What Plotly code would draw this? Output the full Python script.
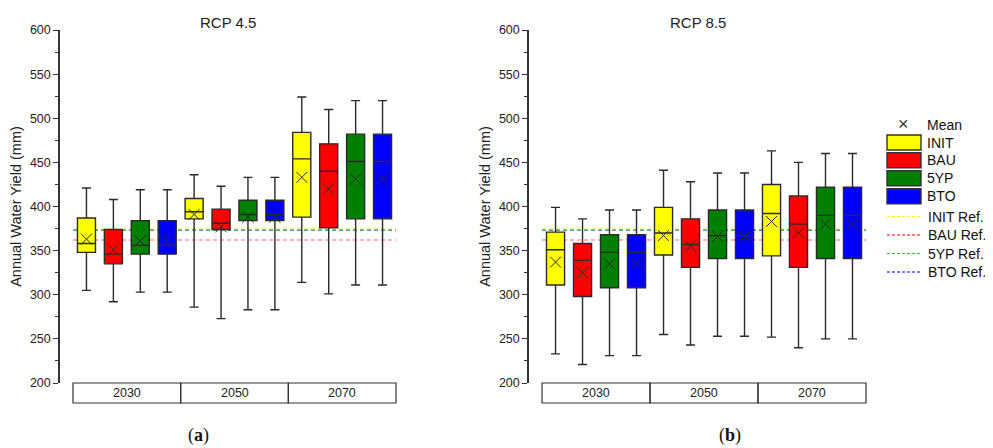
import plotly.graph_objects as go

# ---------------- data ----------------
years = ["2030", "2050", "2070"]
scenarios = ["INIT", "BAU", "5YP", "BTO"]
panel_titles = ["RCP 4.5", "RCP 8.5"]
panel_tags = ["a", "b"]

# RCP 4.5 statistics per scenario (2030, 2050, 2070)
rcp45_lower = {"INIT": [305, 286, 314], "BAU": [292, 273, 301], "5YP": [303, 283, 311], "BTO": [303, 283, 311]}
rcp45_q1 = {"INIT": [348, 386, 388], "BAU": [335, 374, 376], "5YP": [346, 384, 386], "BTO": [346, 384, 386]}
rcp45_median = {"INIT": [358, 394, 454], "BAU": [346, 381, 440], "5YP": [356, 391, 451], "BTO": [356, 391, 451]}
rcp45_q3 = {"INIT": [387, 409, 484], "BAU": [374, 397, 471], "5YP": [384, 407, 482], "BTO": [384, 407, 482]}
rcp45_upper = {"INIT": [421, 436, 524], "BAU": [408, 423, 510], "5YP": [419, 433, 520], "BTO": [419, 433, 520]}
rcp45_mean = {"INIT": [363, 391, 433], "BAU": [351, 377, 420], "5YP": [361, 388, 431], "BTO": [361, 388, 431]}

# RCP 8.5 statistics per scenario (2030, 2050, 2070)
rcp85_lower = {"INIT": [233, 255, 252], "BAU": [221, 243, 240], "5YP": [231, 253, 250], "BTO": [231, 253, 250]}
rcp85_q1 = {"INIT": [311, 345, 344], "BAU": [298, 331, 331], "5YP": [308, 341, 341], "BTO": [308, 341, 341]}
rcp85_median = {"INIT": [351, 370, 392], "BAU": [339, 357, 380], "5YP": [348, 367, 390], "BTO": [348, 367, 390]}
rcp85_q3 = {"INIT": [371, 399, 425], "BAU": [358, 386, 412], "5YP": [368, 396, 422], "BTO": [368, 396, 422]}
rcp85_upper = {"INIT": [399, 441, 463], "BAU": [386, 428, 450], "5YP": [396, 438, 460], "BTO": [396, 438, 460]}
rcp85_mean = {"INIT": [337, 367, 383], "BAU": [325, 355, 370], "5YP": [335, 366, 380], "BTO": [335, 366, 380]}

# reference (baseline) yields
ref_values = {"INIT": 375, "BAU": 362, "5YP": 373, "BTO": 373}

y_ticks = [200, 250, 300, 350, 400, 450, 500, 550, 600]

# ---------------- styles / layout helpers ----------------
fill_colors = {"INIT": "#FFFF00", "BAU": "#FF0000", "5YP": "#008000", "BTO": "#0000FF"}
ref_line_colors = {"INIT": "rgba(255,255,0,0.65)", "BAU": "rgba(255,70,70,0.55)",
                   "5YP": "rgba(60,210,60,0.6)", "BTO": "rgba(0,0,255,0.6)"}
legend_line_colors = {"INIT": "#FFFF00", "BAU": "#FF0000", "5YP": "#33BB33", "BTO": "#0000FF"}
FONT = "Liberation Sans, Arial, sans-serif"

PAGE_W, PAGE_H = 993, 448
OFF = 8  # default body margin of the html page
W, H = PAGE_W - OFF, PAGE_H - OFF


def px(xp):
    return (xp - OFF) / W


def py(yp):
    return 1 - (yp - OFF) / H


X_RANGE = [-0.483, 12]
domains_x = [[px(60), px(396)], [px(529), px(866)]]
domain_y = [py(383), py(30)]

panels = [
    (rcp45_lower, rcp45_q1, rcp45_median, rcp45_q3, rcp45_upper, rcp45_mean),
    (rcp85_lower, rcp85_q1, rcp85_median, rcp85_q3, rcp85_upper, rcp85_mean),
]

fig = go.Figure()
shapes = []
annotations = []


def x_to_paper(p, x):
    d0, d1 = domains_x[p]
    return d0 + (x - X_RANGE[0]) / (X_RANGE[1] - X_RANGE[0]) * (d1 - d0)


for p, (low, q1, med, q3, up, mean) in enumerate(panels):
    xa = "x" if p == 0 else "x2"
    ya = "y" if p == 0 else "y2"
    ngroup = len(scenarios)
    # reference lines, drawn behind the boxes
    for s in ["INIT", "BAU", "BTO", "5YP"]:
        shapes.append(dict(type="line", xref=xa, yref=ya, layer="below",
                           x0=0, x1=ngroup * len(years),
                           y0=ref_values[s], y1=ref_values[s],
                           line=dict(color=ref_line_colors[s], width=1.5, dash="4px,3px")))
    for i, s in enumerate(scenarios):
        pos = [g * ngroup + i + 0.5 for g in range(len(years))]
        fig.add_trace(go.Box(
            x=pos, q1=q1[s], median=med[s], q3=q3[s],
            lowerfence=low[s], upperfence=up[s],
            orientation="v", width=0.67, whiskerwidth=0.5,
            fillcolor=fill_colors[s], line=dict(color="#2a2a2a", width=1.4),
            name=s, xaxis=xa, yaxis=ya, showlegend=False))
        fig.add_trace(go.Scatter(
            x=pos, y=mean[s], mode="markers",
            marker=dict(symbol="x-thin", size=11, line=dict(width=1, color="#2a2a2a")),
            xaxis=xa, yaxis=ya, showlegend=False, name="Mean"))

    # category strip below the plot
    y_top = py(383)
    y_bot = py(403)
    for g, yr in enumerate(years):
        x0 = x_to_paper(p, g * ngroup)
        x1 = x_to_paper(p, (g + 1) * ngroup)
        shapes.append(dict(type="rect", xref="paper", yref="paper", x0=x0, x1=x1,
                           y0=y_bot, y1=y_top, line=dict(color="#333", width=1.2)))
        annotations.append(dict(text=yr, xref="paper", yref="paper",
                                x=(x0 + x1) / 2, y=(y_top + y_bot) / 2, showarrow=False,
                                xanchor="center", yanchor="middle",
                                font=dict(family=FONT, size=12.5, color="#222")))
    # panel title
    annotations.append(dict(text=panel_titles[p], xref="paper", yref="paper",
                            x=(domains_x[p][0] + domains_x[p][1]) / 2, y=py(23),
                            showarrow=False, xanchor="center", yanchor="middle",
                            font=dict(family=FONT, size=15, color="#222")))
    # panel tag
    tag_x = [198, 730][p]
    annotations.append(dict(text="(<b>%s</b>)" % panel_tags[p], xref="paper", yref="paper",
                            x=px(tag_x), y=py(435), showarrow=False,
                            xanchor="center", yanchor="middle",
                            font=dict(family="Liberation Serif, DejaVu Serif, serif", size=18, color="#111")))

# ---------------- manual legend ----------------
lx0, lx1, ltext = px(887), px(921), px(925)
annotations.append(dict(text="×", xref="paper", yref="paper", x=px(903), y=py(124),
                        showarrow=False, xanchor="center", yanchor="middle",
                        font=dict(family=FONT, size=18, color="#333")))
annotations.append(dict(text="Mean", xref="paper", yref="paper", x=ltext, y=py(125),
                        showarrow=False, xanchor="left", yanchor="middle",
                        font=dict(family=FONT, size=14, color="#111")))
box_rows = [142.5, 160.3, 178.3, 196.3]
for s, yc in zip(scenarios, box_rows):
    shapes.append(dict(type="rect", xref="paper", yref="paper", x0=lx0, x1=lx1,
                       y0=py(yc + 7.5), y1=py(yc - 7.5),
                       fillcolor=fill_colors[s], line=dict(color="#333", width=1.4)))
    annotations.append(dict(text=s, xref="paper", yref="paper", x=ltext, y=py(yc),
                            showarrow=False, xanchor="left", yanchor="middle",
                            font=dict(family=FONT, size=14, color="#111")))
line_rows = [216.5, 235, 253.5, 272]
for s, yc in zip(scenarios, line_rows):
    shapes.append(dict(type="line", xref="paper", yref="paper", x0=lx0, x1=px(922),
                       y0=py(yc), y1=py(yc),
                       line=dict(color=legend_line_colors[s], width=1, dash="3px,2px")))
    annotations.append(dict(text=s + " Ref.", xref="paper", yref="paper", x=px(926), y=py(yc),
                            showarrow=False, xanchor="left", yanchor="middle",
                            font=dict(family=FONT, size=14, color="#111")))

axis_common_y = dict(
    range=[200, 600], tickvals=y_ticks, ticks="outside", ticklen=5, tickwidth=1.2,
    tickcolor="#333", showline=True, linecolor="#333", linewidth=1.5,
    showgrid=False, zeroline=False, domain=domain_y, automargin=False,
    tickfont=dict(family=FONT, size=12.5, color="#222"),
    minor=dict(dtick=25, tick0=200, ticks="outside", ticklen=3, tickcolor="#333", tickwidth=1),
    title=dict(text="Annual Water Yield (mm)", standoff=5,
               font=dict(family=FONT, size=14.5, color="#222")),
)
axis_common_x = dict(range=X_RANGE, visible=False, showgrid=False, zeroline=False, automargin=False)

fig.update_layout(
    width=W, height=H,
    margin=dict(l=0, r=0, t=0, b=0, pad=0),
    paper_bgcolor="white", plot_bgcolor="white",
    boxmode="overlay",
    xaxis=dict(domain=domains_x[0], anchor="y", **axis_common_x),
    xaxis2=dict(domain=domains_x[1], anchor="y2", **axis_common_x),
    yaxis=dict(anchor="x", **axis_common_y),
    yaxis2=dict(anchor="x2", **axis_common_y),
    shapes=shapes, annotations=annotations,
    showlegend=False,
)

fig.write_html("out.html")
